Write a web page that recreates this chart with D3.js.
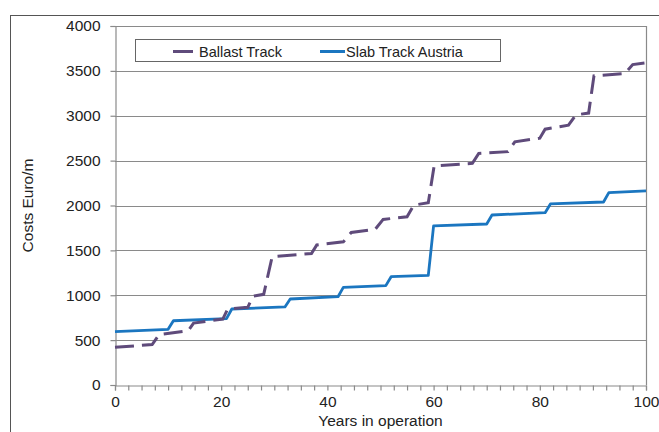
<!DOCTYPE html>
<html><head><meta charset="utf-8">
<script src="https://cdn.jsdelivr.net/npm/d3@7"></script>
<style>body{margin:0;background:#fff;} svg{display:block;font-family:"Liberation Sans",Arial,sans-serif;}</style>
</head><body>
<svg id="c" width="659" height="432"></svg>
<script>
const seriesNames = ["Ballast Track", "Slab Track Austria"];
const ballastYears = [0,7,8.3,13.8,14.8,20.3,21.2,25,26,28,29.6,37,38,43,44.5,49,50.5,55,56.3,59,60.1,67.3,68.5,74,75.3,80,81,85.4,86.8,89.2,90.2,96,97.5,100];
const ballastCosts = [420,450,560,605,690,735,845,865,990,1010,1430,1465,1560,1595,1700,1735,1845,1875,2005,2030,2440,2470,2580,2600,2710,2750,2850,2895,3010,3030,3445,3470,3570,3590];
const slabYears = [0,10,11,21,22,32,33,42,43,51,52,59,60,70,71,81,82,92,93,100];
const slabCosts = [594,620,716,739,847,870,958,984,1088,1107,1207,1222,1772,1794,1894,1920,2017,2039,2143,2162];
const yTicks = [0,500,1000,1500,2000,2500,3000,3500,4000];
const xTickLabels = [0,20,40,60,80,100];
const xAxisTitle = "Years in operation";
const yAxisTitle = "Costs Euro/m";

const svg = d3.select("#c");
const L = 115, R = 646, T = 26, B = 385;
const x = d3.scaleLinear().domain([0,100]).range([L,R]);
const y = d3.scaleLinear().domain([0,4000]).range([B,T]);
const gridCol = "#8a8a8a";
const fs = 15.5;

// outer border
svg.append("rect").attr("x",10.5).attr("y",15.5).attr("width",700).attr("height",500)
  .attr("fill","none").attr("stroke","#555").attr("stroke-width",1);

// gridlines
svg.append("g").selectAll("line").data(yTicks.filter(d=>d>0)).join("line")
  .attr("x1",L).attr("x2",R).attr("y1",d=>Math.round(y(d))+0.5).attr("y2",d=>Math.round(y(d))+0.5)
  .attr("stroke",gridCol).attr("stroke-width",1.2);
// right border
svg.append("line").attr("x1",R+0.5).attr("x2",R+0.5).attr("y1",T).attr("y2",B).attr("stroke",gridCol).attr("stroke-width",1.2);

// y axis
const yAxis = d3.axisLeft(y).tickValues(yTicks).tickSize(5).tickPadding(10).tickFormat(d3.format("d"));
const gy = svg.append("g").attr("transform",`translate(${L+0.5},0)`).call(yAxis);
gy.select(".domain").attr("stroke",gridCol).attr("stroke-width",1.2);
gy.selectAll(".tick line").attr("stroke",gridCol).attr("stroke-width",1.2);
gy.selectAll("text").attr("font-size",fs).attr("fill","#222").attr("font-family","Liberation Sans, Arial, sans-serif");

// x axis
const xTicksMinor = d3.range(0,100.01,2.5);
const xAxis = d3.axisBottom(x).tickValues(xTicksMinor).tickSize(5).tickPadding(5)
  .tickFormat(d => xTickLabels.includes(d) ? String(d) : "");
const gx = svg.append("g").attr("transform",`translate(0,${B+0.5})`).call(xAxis);
gx.select(".domain").attr("stroke",gridCol).attr("stroke-width",1.2);
gx.selectAll(".tick line").attr("stroke",gridCol).attr("stroke-width",1.2);
gx.selectAll("text").attr("font-size",fs).attr("fill","#222").attr("font-family","Liberation Sans, Arial, sans-serif");

// lines
const line = d3.line().x(d=>x(d[0])).y(d=>y(d[1]));
const slab = slabYears.map((yr,i)=>[yr,slabCosts[i]]);
const ballast = ballastYears.map((yr,i)=>[yr,ballastCosts[i]]);
svg.append("path").datum(slab).attr("d",line).attr("fill","none")
  .attr("stroke","#1b76c0").attr("stroke-width",2.8).attr("stroke-linejoin","round");
svg.append("path").datum(ballast).attr("d",line).attr("fill","none")
  .attr("stroke","#5f4b7b").attr("stroke-width",3).attr("stroke-dasharray","19,8");

// legend
const lg = svg.append("g");
lg.append("rect").attr("x",135.5).attr("y",39.5).attr("width",365).attr("height",22)
  .attr("fill","#fff").attr("stroke","#666").attr("stroke-width",1);
lg.append("line").attr("x1",173).attr("x2",193).attr("y1",51.5).attr("y2",51.5).attr("stroke","#5f4b7b").attr("stroke-width",3);
lg.append("text").attr("x",199).attr("y",56.5).attr("font-size",14.5).attr("fill","#222").text(seriesNames[0]);
lg.append("line").attr("x1",320).attr("x2",345).attr("y1",51.5).attr("y2",51.5).attr("stroke","#1b76c0").attr("stroke-width",3);
lg.append("text").attr("x",346).attr("y",56.5).attr("font-size",14.5).attr("fill","#222").text(seriesNames[1]);

// axis titles
svg.append("text").attr("x",(L+R)/2).attr("y",426).attr("text-anchor","middle")
  .attr("font-size",fs).attr("fill","#222").text(xAxisTitle);
svg.append("text").attr("transform",`translate(33,${(T+B)/2}) rotate(-90)`).attr("text-anchor","middle")
  .attr("font-size",fs).attr("fill","#222").text(yAxisTitle);
</script>
</body></html>
